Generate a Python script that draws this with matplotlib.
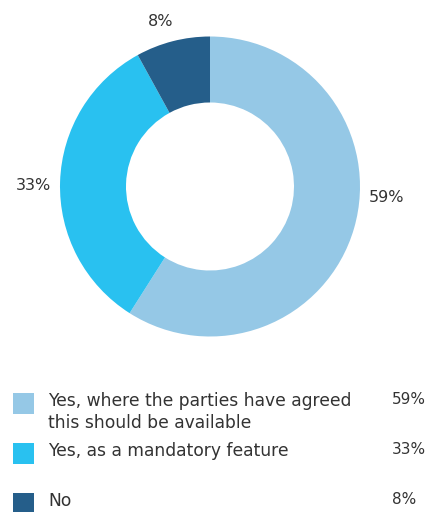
import matplotlib
matplotlib.use('Agg')
from matplotlib import pyplot as plt
from matplotlib.patches import Rectangle

# данные опроса
categories = ['Yes, where the parties have agreed\nthis should be available',
              'Yes, as a mandatory feature',
              'No']
shares = [59, 33, 8]
pct_labels = ['59%', '33%', '8%']
colors = ['#95c8e6', '#29c1f0', '#255e8a']

# позиции подписей вокруг кольца (в радиусах)
label_pos = [(1.18, -0.07), (-1.18, 0.01), (-0.33, 1.10)]

W, H = 430, 512
TEXT_COLOR = '#333333'

fig = plt.figure(figsize=(W / 100, H / 100), dpi=100)

# кольцевая диаграмма: центр (210, 186.5), радиус 150 px
cx, cy, r = 210, 186.5, 150
ax = fig.add_axes([(cx - r) / W, (H - cy - r) / H, 2 * r / W, 2 * r / H])
ax.pie(shares, colors=colors, startangle=90, counterclock=False,
       radius=1, wedgeprops=dict(width=0.44, linewidth=0))
ax.set_xlim(-1, 1)
ax.set_ylim(-1, 1)
ax.set_aspect('auto')
ax.axis('off')
for (x, y), txt in zip(label_pos, pct_labels):
    ax.text(x, y, txt, ha='center', va='center', fontsize=11.5,
            color=TEXT_COLOR, clip_on=False)

# легенда
lg = fig.add_axes([0, 0, 1, 1])
lg.set_xlim(0, W)
lg.set_ylim(H, 0)
lg.axis('off')
row_top = [393, 443, 493]
for top, color, name, pct in zip(row_top, colors, categories, pct_labels):
    lg.add_patch(Rectangle((13, top), 21, 21, facecolor=color, edgecolor='none'))
    lg.text(48, top - 1, name, ha='left', va='top', fontsize=12.3,
            color=TEXT_COLOR, linespacing=1.3)
    lg.text(392, top - 1, pct, ha='left', va='top', fontsize=11,
            color=TEXT_COLOR)

fig.savefig('out.png', dpi=100)
